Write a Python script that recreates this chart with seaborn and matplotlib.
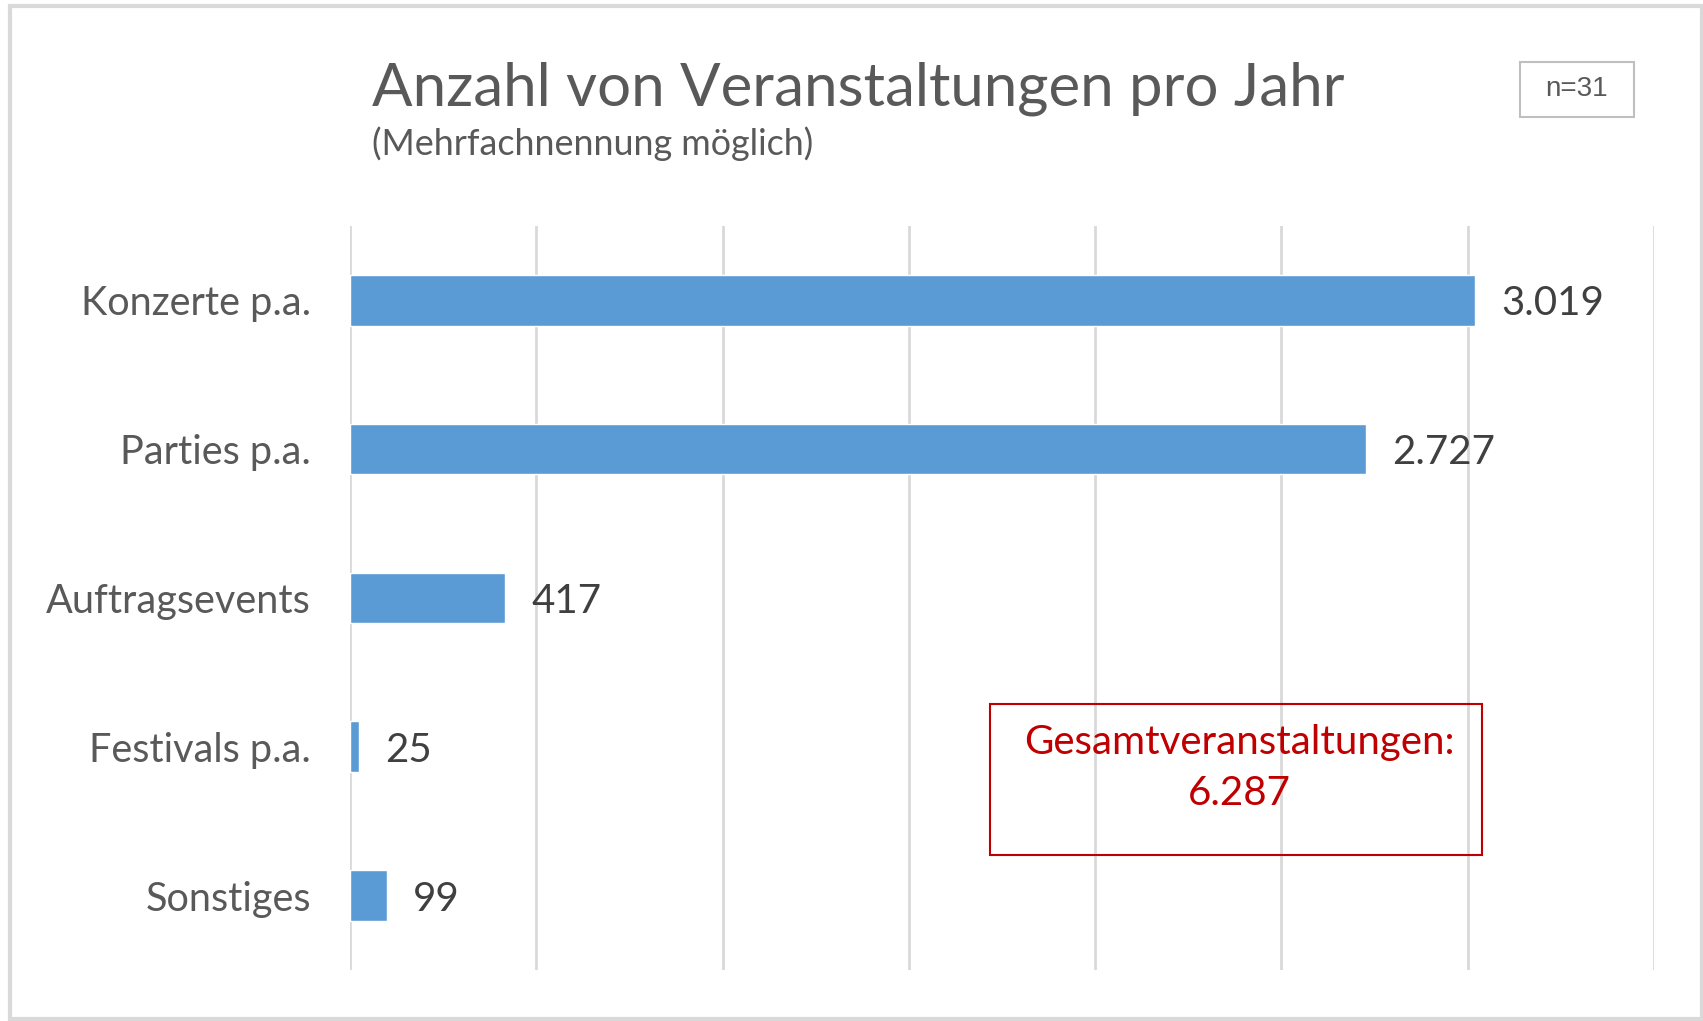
import matplotlib
matplotlib.use("Agg")
import matplotlib.pyplot as plt
import seaborn as sns
import pandas as pd
from matplotlib.patches import Rectangle

# data
categories = ["Konzerte p.a.", "Parties p.a.", "Auftragsevents", "Festivals p.a.", "Sonstiges"]
values = [3019, 2727, 417, 25, 99]
total = 6287
n_total = 31

df = pd.DataFrame({"kategorie": categories, "anzahl": values})

sns.set_style("white")
plt.rcParams["font.family"] = ["Lato", "DejaVu Sans"]

fig = plt.figure(figsize=(17.03, 10.21), dpi=100)
ax = fig.add_axes([0.2055, 0.05, 0.9712 - 0.2055, 0.7787 - 0.05])

sns.barplot(data=df, x="anzahl", y="kategorie", orient="h", color="#5b9bd5",
            saturation=1, width=0.34, ax=ax)

ax.set_xlim(0, 3500)
ax.set_ylim(4.5, -0.5)
ax.set_xticks(range(0, 3501, 500))
ax.set_xticklabels([])
ax.xaxis.grid(True, color="#d9d9d9", linewidth=2)
ax.set_axisbelow(True)
for s in ax.spines.values():
    s.set_visible(False)
ax.tick_params(axis="both", length=0)
ax.tick_params(axis="y", pad=28, labelsize=28.5, labelcolor="#595959")
for lab in ax.get_yticklabels():
    lab.set_verticalalignment("center_baseline")
ax.set_xlabel("")
ax.set_ylabel("")

# value labels
for i, v in enumerate(values):
    ax.text(v + 70, i, f"{v:,}".replace(",", "."), va="center_baseline", ha="left",
            fontsize=29, color="#404040")

# titles
fig.text(372 / 1703, 1 - 105 / 1021, "Anzahl von Veranstaltungen pro Jahr",
         fontsize=43.2, color="#595959", ha="left", va="baseline")
fig.text(372 / 1703, 1 - 155 / 1021, "(Mehrfachnennung möglich)",
         fontsize=25.8, color="#595959", ha="left", va="baseline")

# n box
fig.patches.append(Rectangle((1520 / 1703, 1 - 117 / 1021), 114 / 1703, 55 / 1021,
                             transform=fig.transFigure, fill=False,
                             edgecolor="#bfbfbf", linewidth=1.5))
fig.text(1577 / 1703, 1 - 89.5 / 1021, f"n={n_total}", family="Liberation Sans",
         fontsize=20, color="#595959", ha="center", va="center")

# total box
fig.patches.append(Rectangle((990 / 1703, 1 - 855 / 1021), 492 / 1703, 151 / 1021,
                             transform=fig.transFigure, fill=False,
                             edgecolor="#c00000", linewidth=1.5))
fig.text(1239 / 1703, 1 - 768 / 1021,
         "Gesamtveranstaltungen:\n" + f"{total:,}".replace(",", "."),
         fontsize=29, color="#c00000", ha="center", va="center", linespacing=1.47)

# outer frame
fig.patches.append(Rectangle((10 / 1703, 0.002), 1 - 11 / 1703, 1 - 8 / 1021,
                             transform=fig.transFigure, fill=False,
                             edgecolor="#d9d9d9", linewidth=3))

fig.savefig("out.png", dpi=100)
